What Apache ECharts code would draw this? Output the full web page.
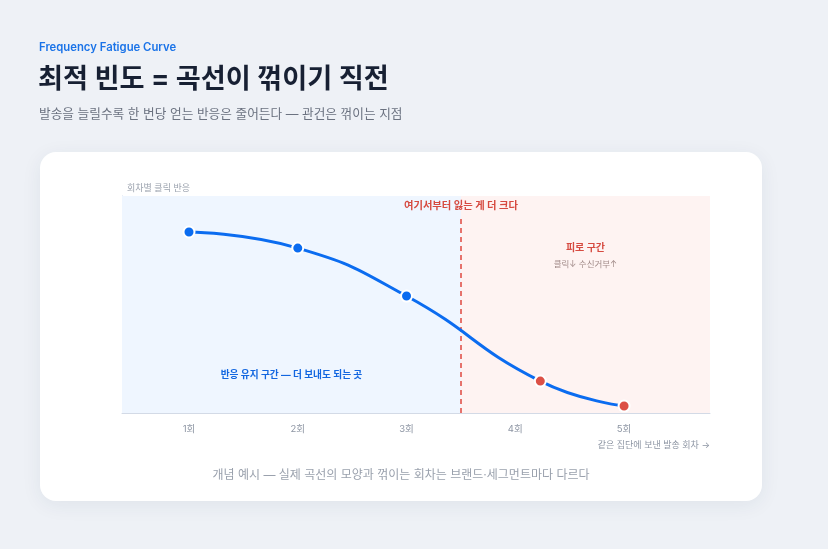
<!DOCTYPE html>
<html>
<head>
<meta charset="utf-8">
<script src="https://cdn.jsdelivr.net/npm/echarts@6/dist/echarts.min.js"></script>
<style>
html,body{margin:0;padding:0;background:#eef1f6;}
#c{width:828px;height:549px;}
</style>
</head>
<body>
<div id="c"></div>
<script>
const eyebrow = 'Frequency Fatigue Curve';
const titleText = '최적 빈도 = 곡선이 꺾이기 직전';
const subtitleText = '발송을 늘릴수록 한 번당 얻는 반응은 줄어든다 — 관건은 꺾이는 지점';
const captionText = '개념 예시 — 실제 곡선의 모양과 꺾이는 회차는 브랜드·세그먼트마다 다르다';
const yAxisName = '회차별 클릭 반응';
const xAxisName = '같은 집단에 보낸 발송 회차 →';
const tickValues = [1, 2, 3, 4, 5];
const tickSuffix = '회';
const sendRounds = [1, 2, 3, 4.23, 5];
const clickResponse = [83.4, 76.0, 53.9, 14.7, 3.2];
const fatigued = [false, false, false, true, true];
const breakPoint = 3.5;
const breakLineTop = 90;
const breakLabel = '여기서부터 잃는 게 더 크다';
const keepZoneLabel = '반응 유지 구간 — 더 보내도 되는 곳';
const fatigueZoneTitle = '피로 구간';
const fatigueZoneSub = '클릭↓ 수신거부↑';

const FONT = "Inter, 'Noto Sans CJK KR', sans-serif";
const xMin = 0.384, xMax = 5.79;

const chart = echarts.init(document.getElementById('c'));
const data = sendRounds.map((x, i) => ({
  value: [x, clickResponse[i]],
  itemStyle: { color: fatigued[i] ? '#dc5046' : '#0b6cf0' }
}));

chart.setOption({
  backgroundColor: '#eef1f6',
  textStyle: { fontFamily: FONT },
  animation: false,
  graphic: [
    { type: 'rect', z: -10, shape: { x: 40, y: 152, width: 722, height: 349, r: 16 },
      style: { fill: '#ffffff', shadowBlur: 20, shadowOffsetY: 4, shadowColor: 'rgba(30,50,90,0.07)' } },
    { type: 'text', x: 39, y: 48, style: { text: eyebrow, font: "600 11.3px " + FONT, fill: '#1a73e8', verticalAlign: 'middle' } },
    { type: 'text', x: 38, y: 80, style: { text: titleText, font: "700 27.2px " + FONT, fill: '#172033', verticalAlign: 'middle' } },
    { type: 'text', x: 39, y: 114, style: { text: subtitleText, font: "400 12.7px " + FONT, fill: '#6b7280', verticalAlign: 'middle' } },
    { type: 'text', x: 401, y: 475, style: { text: captionText, font: "400 12px " + FONT, fill: '#9aa1ad', align: 'center', verticalAlign: 'middle' } }
  ],
  grid: { left: 122, right: 118, top: 196, bottom: 136 },
  xAxis: {
    type: 'value', min: xMin, max: xMax,
    name: xAxisName, nameLocation: 'end',
    nameTextStyle: { color: '#8d95a3', fontSize: 9, align: 'right', verticalAlign: 'top', padding: [28, 0, 0, 0] },
    nameGap: 0,
    axisLine: { show: true, lineStyle: { color: '#d3dae6', width: 1 } },
    axisTick: { show: false },
    splitLine: { show: false },
    axisLabel: { customValues: tickValues, formatter: v => v + tickSuffix, color: '#8d95a3', fontSize: 9.5, margin: 11 }
  },
  yAxis: {
    type: 'value', min: 0, max: 100,
    name: yAxisName, nameLocation: 'end',
    nameTextStyle: { color: '#9aa1ad', fontSize: 9, align: 'left', padding: [0, 0, 0, 5] },
    nameGap: 3,
    axisLine: { show: true, lineStyle: { color: '#c9d6ec', width: 1 } },
    axisTick: { show: false },
    axisLabel: { show: false },
    splitLine: { show: false }
  },
  series: [{
    type: 'line',
    data: data,
    smooth: 0.5,
    symbol: 'circle',
    symbolSize: 11,
    lineStyle: { color: '#0b6cf0', width: 3 },
    itemStyle: { borderColor: '#ffffff', borderWidth: 2 },
    z: 5,
    markArea: {
      silent: true,
      data: [
        [{ xAxis: xMin, itemStyle: { color: '#eff6ff' },
           label: { show: true, position: 'insideBottom', distance: 33, formatter: keepZoneLabel,
                    color: '#1266e0', fontSize: 9.7, fontWeight: 'bold' } },
         { xAxis: breakPoint }],
        [{ xAxis: breakPoint, itemStyle: { color: '#fef3f2' },
           label: { show: true, position: 'insideTop', distance: 44,
                    formatter: '{a|' + fatigueZoneTitle + '}\n{b|' + fatigueZoneSub + '}',
                    rich: {
                      a: { color: '#d64a40', fontSize: 10, fontWeight: 'bold', lineHeight: 16 },
                      b: { color: '#a08a88', fontSize: 8.5, lineHeight: 16 }
                    } } },
         { xAxis: xMax }]
      ]
    },
    markLine: {
      silent: true,
      symbol: 'none',
      lineStyle: { color: '#e0483f', type: [5, 4], width: 1.5 },
      label: { show: true, position: 'end', formatter: breakLabel, color: '#d64a40', fontSize: 10.3, fontWeight: 'bold', distance: 7 },
      data: [[{ coord: [breakPoint, 0] }, { coord: [breakPoint, breakLineTop] }]]
    }
  }]
});
</script>
</body>
</html>
